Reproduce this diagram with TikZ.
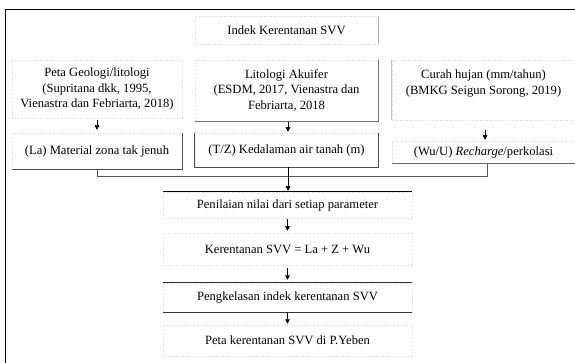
\documentclass[tikz,border=0pt]{standalone}
\usepackage{fontspec}
\setmainfont{Liberation Serif}
\usetikzlibrary{arrows.meta,calc}
\begin{document}
\begin{tikzpicture}[x=1pt,y=-1pt,
 box/.style={draw=black!15, dotted, line width=0.5pt, inner sep=0pt, align=center, font=\fontsize{12.6}{15.5}\selectfont},
 edge/.style={line width=0.6pt, draw=black!65},
 arr/.style={line width=0.5pt, draw=black, -{Triangle[length=4.5pt,width=4.5pt]}},
]
\useasboundingbox (0,0) rectangle (575,363);
\fill[white] (0,0) rectangle (575,363);
% outer frame
\draw[line width=1pt] (575,10) -- (5,10) -- (5,363);

% boxes
\node[box, minimum width=183pt, minimum height=28pt] (ind) at (286.5,30) {Indek Kerentanan SVV};

\node[box, minimum width=170pt, minimum height=58pt] (geo) at (97,89) {Peta Geologi/litologi\\(Supritana dkk, 1995,\\Vienastra dan Febriarta, 2018)};
\node[box, minimum width=183pt, minimum height=61pt] (lit) at (286.5,90.5) {Litologi Akuifer\\(ESDM, 2017, Vienastra dan\\Febriarta, 2018};
\node[box, minimum width=183pt, minimum height=60pt] (cur) at (483.5,90) {Curah hujan (mm/tahun)\\(BMKG Seigun Sorong, 2019)\\\mbox{}};

\node[box, minimum width=170pt, minimum height=36pt] (la) at (97,151) {(La) Material zona tak jenuh};
\node[box, minimum width=183pt, minimum height=34pt] (tz) at (286.5,150) {(T/Z) Kedalaman air tanah (m)};
\node[box, minimum width=183pt, minimum height=22pt] (wu) at (483.5,152) {(Wu/U) \textit{Recharge}/perkolasi};

\node[box, minimum width=249pt, minimum height=26pt] (pen) at (287.5,205) {Penilaian nilai dari setiap parameter};
\node[box, minimum width=249pt, minimum height=32pt] (ker) at (287.5,249) {Kerentanan SVV = La + Z + Wu};
\node[box, minimum width=249pt, minimum height=29pt] (pkl) at (287.5,297.5) {Pengkelasan indek kerentanan SVV};
\node[box, minimum width=249pt, minimum height=31pt] (pyb) at (287.5,340.5) {Peta kerentanan SVV di P.Yeben};

% solid edges
\draw[edge, draw=black!30] (ind.north east) -- (ind.south east);
\draw[edge, draw=black!55] (lit.north east) -- (lit.south east) -- (lit.south west);
\draw[edge, draw=black!25] (cur.north west) -- (cur.south west);
\draw[edge, draw=black!70] (la.north east) -- (la.south east) -- (la.south west);
\draw[edge, draw=black!70] (tz.north west) -- (tz.south west) -- (tz.south east) -- (tz.north east);
\draw[edge, draw=black!60] (wu.south west) -- (wu.south east);
\draw[line width=0.7pt] (pen.north west) -- (pen.north east);
\draw[line width=0.7pt, draw=black!80] (pkl.north west) -- (pkl.north east);
\draw[line width=0.7pt, draw=black!80] (pkl.south west) -- (pkl.south east);

% connectors
\draw[arr, shorten <=2pt, shorten >=3pt] (geo.south) -- (la.north);
\draw[arr, shorten <=1pt, shorten >=1pt] ([xshift=1.5pt]lit.south) -- ([xshift=1.5pt]tz.north);
\draw[arr, shorten <=10pt, shorten >=1pt] ([xshift=1.5pt]cur.south) -- ([xshift=1.5pt]wu.north);
\draw[edge] (la.south) -- ++(0,7) -| ([xshift=3.5pt]wu.south);
\draw[arr, shorten >=1pt] ([xshift=1.5pt]tz.south) -- ([xshift=0.5pt]pen.north);
\draw[arr, shorten <=1pt, shorten >=2pt] (pen.south) -- (ker.north);
\draw[arr, shorten <=3pt, shorten >=3pt] (ker.south) -- (pkl.north);
\draw[arr, shorten <=1pt, shorten >=1pt] (pkl.south) -- (pyb.north);
\end{tikzpicture}
\end{document}
